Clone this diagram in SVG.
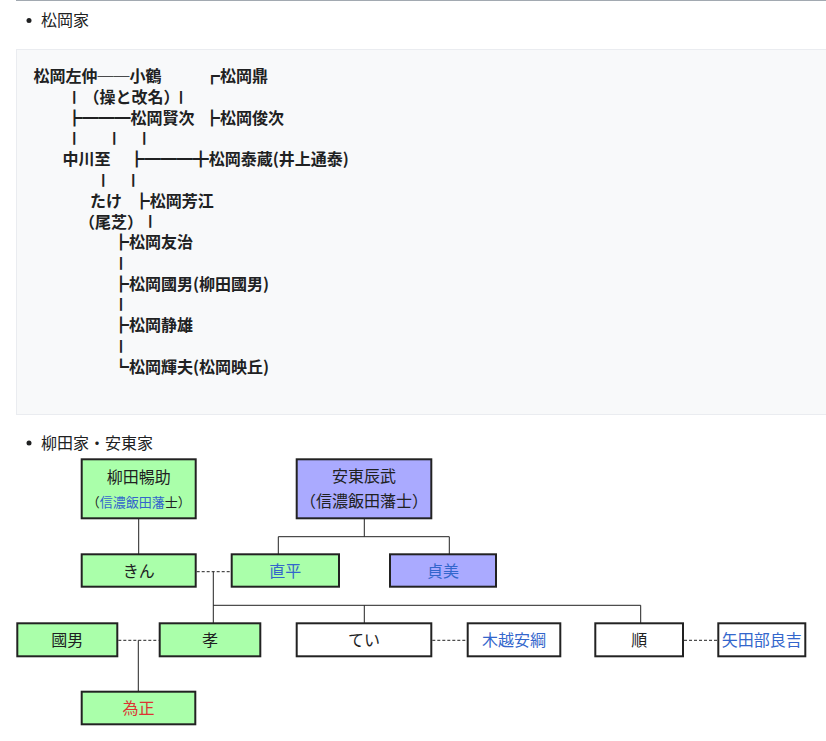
<svg xmlns="http://www.w3.org/2000/svg" width="826" height="741" viewBox="0 0 826 741">
<style>
text{font-family:"Noto Sans CJK JP","Noto Sans CJK SC",sans-serif;fill:#202122}
.h{font-size:16px}
.pre{font-size:16px;font-weight:700}
.n{font-size:16px;text-anchor:middle}
.s{font-size:13px;text-anchor:middle}
.box{stroke:#222;stroke-width:2}
.g{fill:#aaffaa}
.p{fill:#aaaaff}
.w{fill:#ffffff}
.lk{fill:#3366cc}
.red{fill:#dd3333}
.c{stroke:#222;stroke-width:1;fill:none}
.d{stroke:#222;stroke-width:1;fill:none;stroke-dasharray:3,2}
</style>
<rect width="826" height="741" fill="#ffffff"/>
<line x1="16" y1="0.5" x2="826" y2="0.5" stroke="#a2a9b1" stroke-width="1"/>
<circle cx="29" cy="20.5" r="2.5" fill="#202122"/>
<text class="h" x="41" y="25.5">松岡家</text>
<rect x="16.5" y="49.5" width="815" height="365" fill="#f8f9fa" stroke="#eaecf0"/>
<g id="matsuoka-tree">
<text class="pre" x="33.5" y="82.3">松岡左仲──小鶴</text>
<text class="pre" x="204" y="82.3">┏松岡鼎</text>
<g transform="matrix(1,0,0,0.8,0,19.38)"><text class="pre" x="66.3" y="103">┃</text><text class="pre" x="173" y="103">┃</text></g>
<text class="pre" x="83.5" y="103">（操と改名）</text>
<text class="pre" x="66.5" y="123.8">┣━━━松岡賢次</text>
<text class="pre" x="204" y="123.8">┣松岡俊次</text>
<g transform="matrix(1,0,0,0.8,0,27.68)"><text class="pre" x="66.3" y="144.5">┃</text><text class="pre" x="106.3" y="144.5">┃</text><text class="pre" x="136.3" y="144.5">┃</text></g>
<text class="pre" x="62.5" y="165.3">中川至</text>
<text class="pre" x="128.7" y="165.3">┣━━━╋松岡泰蔵(井上通泰)</text>
<g transform="matrix(1,0,0,0.8,0,35.98)"><text class="pre" x="95.3" y="186">┃</text><text class="pre" x="125.3" y="186">┃</text></g>
<text class="pre" x="90" y="206.8">たけ</text>
<text class="pre" x="133.7" y="206.8">┣松岡芳江</text>
<text class="pre" x="79" y="227.5">（尾芝）</text>
<g transform="matrix(1,0,0,0.8,0,44.28)"><text class="pre" x="142.3" y="227.5">┃</text></g>
<text class="pre" x="113" y="248.3">┣松岡友治</text>
<g transform="matrix(1,0,0,0.8,0,52.58)"><text class="pre" x="113" y="269">┃</text></g>
<text class="pre" x="113" y="289.8">┣松岡國男(柳田國男)</text>
<g transform="matrix(1,0,0,0.8,0,60.88)"><text class="pre" x="113" y="310.5">┃</text></g>
<text class="pre" x="113" y="331.3">┣松岡静雄</text>
<g transform="matrix(1,0,0,0.8,0,69.18)"><text class="pre" x="113" y="352">┃</text></g>
<text class="pre" x="113" y="372.8">┗松岡輝夫(松岡映丘)</text>
</g>
<circle cx="29" cy="443" r="2.5" fill="#202122"/>
<text class="h" x="41" y="448.5">柳田家・安東家</text>
<g id="connectors">
<line class="c" x1="138.7" y1="519" x2="138.7" y2="554"/>
<line class="c" x1="364.3" y1="519" x2="364.3" y2="536.7"/>
<polyline class="c" points="278.3,554 278.3,536.7 449.3,536.7 449.3,554"/>
<line class="d" x1="196.7" y1="571.7" x2="230.7" y2="571.7"/>
<line class="c" x1="213.3" y1="571.7" x2="213.3" y2="623"/>
<line class="c" x1="213.3" y1="605.3" x2="640.7" y2="605.3"/>
<line class="c" x1="364.3" y1="605.3" x2="364.3" y2="623"/>
<line class="c" x1="640.7" y1="605.3" x2="640.7" y2="623"/>
<line class="d" x1="118.3" y1="640.3" x2="158.7" y2="640.3"/>
<line class="c" x1="138.3" y1="640.3" x2="138.3" y2="691"/>
<line class="d" x1="432.3" y1="640.3" x2="466.7" y2="640.3"/>
<line class="d" x1="684" y1="640.3" x2="717.3" y2="640.3"/>
</g>
<g id="yanagita-changsuke">
<rect class="box g" x="81.7" y="459.3" width="114" height="59"/>
<text class="n" x="138.7" y="482.8">柳田暢助</text>
<text class="s" x="138.7" y="506.7">（<tspan class="lk">信濃飯田藩</tspan>士）</text>
</g>
<g id="ando-tatsutake">
<rect class="box p" x="296.7" y="459.3" width="134.6" height="59"/>
<text class="n" x="364" y="482.3">安東辰武</text>
<text class="n" x="364" y="506.7">（信濃飯田藩士）</text>
</g>
<g id="kin">
<rect class="box g" x="81.7" y="554.3" width="114" height="32.4"/>
<text class="n" x="138.7" y="577">きん</text>
</g>
<g id="naohira">
<rect class="box g" x="231.7" y="554.3" width="107.3" height="32.4"/>
<text class="n lk" x="285.3" y="577">直平</text>
</g>
<g id="sadayoshi">
<rect class="box p" x="390" y="554.3" width="106" height="32.4"/>
<text class="n lk" x="443" y="577">貞美</text>
</g>
<g id="kunio">
<rect class="box g" x="17.3" y="623.3" width="100" height="33"/>
<text class="n" x="67.3" y="646">國男</text>
</g>
<g id="taka">
<rect class="box g" x="159.7" y="623.3" width="100.6" height="33"/>
<text class="n" x="210" y="646">孝</text>
</g>
<g id="tei">
<rect class="box w" x="296.7" y="623.3" width="134.6" height="33"/>
<text class="n" x="364" y="646">てい</text>
</g>
<g id="kigoshi-yasutsuna">
<rect class="box w" x="467.7" y="623.3" width="92.6" height="33"/>
<text class="n lk" x="514" y="646">木越安綱</text>
</g>
<g id="jun">
<rect class="box w" x="595.3" y="623.3" width="87.7" height="33"/>
<text class="n" x="639.2" y="646">順</text>
</g>
<g id="yatabe-ryokichi">
<rect class="box w" x="718.3" y="623.3" width="87" height="33"/>
<text class="n lk" x="761.8" y="646">矢田部良吉</text>
</g>
<g id="tamemasa">
<rect class="box g" x="81.7" y="691.7" width="113.6" height="32.6"/>
<text class="n red" x="138.5" y="714.3">為正</text>
</g>
</svg>
